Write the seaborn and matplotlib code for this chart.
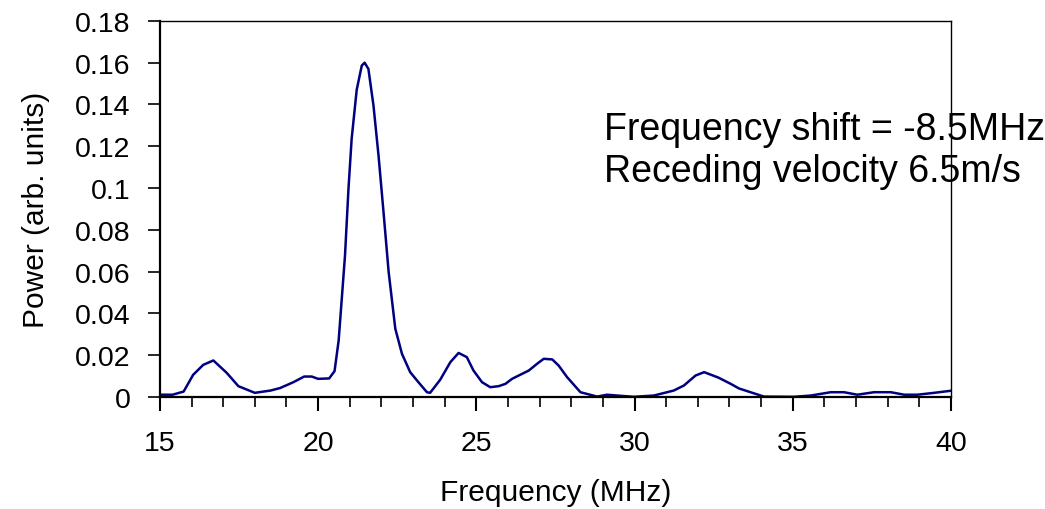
import matplotlib
matplotlib.use("Agg")
import matplotlib.pyplot as plt
from matplotlib.ticker import MultipleLocator
import seaborn as sns
import pandas as pd

# Spectrum (frequency in MHz, power in arb. units)
freq = [15.0, 15.4, 15.75, 16.05, 16.37, 16.69, 17.11, 17.48, 18.0, 18.5,
        18.8, 19.22, 19.56, 19.8, 20.0, 20.35, 20.52, 20.65, 20.85, 20.96,
        21.06, 21.22, 21.38, 21.47, 21.59, 21.75, 21.91, 22.07, 22.23, 22.44,
        22.65, 22.91, 23.17, 23.44, 23.54, 23.86, 24.18, 24.44, 24.7, 24.91,
        25.18, 25.44, 25.71, 25.92, 26.13, 26.66, 26.92, 27.13, 27.4, 27.6,
        27.87, 28.29, 28.82, 29.13, 29.45, 29.98, 30.61, 31.24, 31.56, 31.93,
        32.2, 32.65, 33.04, 33.3, 34.09, 35.04, 35.57, 36.2, 36.62, 37.04,
        37.57, 38.1, 38.52, 38.94, 39.47, 40.0]
power = [0.001, 0.001, 0.0025, 0.0105, 0.0153, 0.0174, 0.0115, 0.0051, 0.0019, 0.003,
         0.0042, 0.007, 0.0097, 0.0097, 0.0086, 0.0088, 0.0123, 0.027, 0.0676, 0.0996,
         0.1235, 0.147, 0.1586, 0.160, 0.157, 0.1395, 0.1155, 0.088, 0.0597, 0.0326,
         0.0206, 0.0118, 0.007, 0.0022, 0.0019, 0.0082, 0.0166, 0.021, 0.019, 0.0126,
         0.007, 0.0046, 0.0051, 0.0062, 0.0086, 0.0126, 0.0158, 0.0182, 0.0179, 0.015,
         0.0094, 0.0022, 0.0001, 0.001, 0.0006, 0.0, 0.0006, 0.003, 0.0054, 0.0102,
         0.0118, 0.0092, 0.0062, 0.004, 0.0001, 0.0, 0.0006, 0.0022, 0.0022, 0.001,
         0.0022, 0.0022, 0.001, 0.001, 0.0019, 0.0029]

notes = ["Frequency shift = -8.5MHz", "Receding velocity 6.5m/s"]

sns.set_style("ticks")
plt.rcParams['font.family'] = ['Liberation Sans', 'DejaVu Sans']
plt.rcParams['text.color'] = 'black'
plt.rcParams['axes.labelcolor'] = 'black'
plt.rcParams['xtick.color'] = 'black'
plt.rcParams['ytick.color'] = 'black'
plt.rcParams['axes.edgecolor'] = 'black'

df = pd.DataFrame({"freq": freq, "power": power})

fig = plt.figure(figsize=(10.45, 5.1), dpi=100)
ax = fig.add_axes([0.153, 0.22, 0.757, 0.737])

sns.lineplot(data=df, x="freq", y="power", ax=ax, color="#000080",
             linewidth=1.8, sort=False)

ax.set_xlim(15, 40)
ax.set_ylim(0, 0.18)
ax.xaxis.set_major_locator(MultipleLocator(5))
ax.xaxis.set_minor_locator(MultipleLocator(1))
ax.yaxis.set_major_locator(MultipleLocator(0.02))
ax.set_yticklabels(["0" if v == 0 else f"{v:g}" for v in ax.get_yticks()])

ax.tick_params(axis="x", which="major", direction="out", length=10, width=1.5,
               labelsize=20.5, pad=14)
ax.tick_params(axis="x", which="minor", direction="out", length=7, width=1.2)
ax.tick_params(axis="y", which="major", direction="out", length=9, width=1.2,
               labelsize=20.5, pad=12)

for side in ["left", "bottom"]:
    ax.spines[side].set_linewidth(1.6)
for side in ["top", "right"]:
    ax.spines[side].set_linewidth(1.0)
    ax.spines[side].set_visible(True)

ax.set_xlabel("Frequency (MHz)", fontsize=21.5, labelpad=16)
ax.set_ylabel("Power (arb. units)", fontsize=21.5, labelpad=18)

ax.text(29.05, 0.1283, notes[0], fontsize=27, va="center", ha="left", zorder=1)
ax.text(29.05, 0.1082, notes[1], fontsize=27, va="center", ha="left", zorder=1)

fig.savefig("out.png", dpi=100)
plt.close(fig)
